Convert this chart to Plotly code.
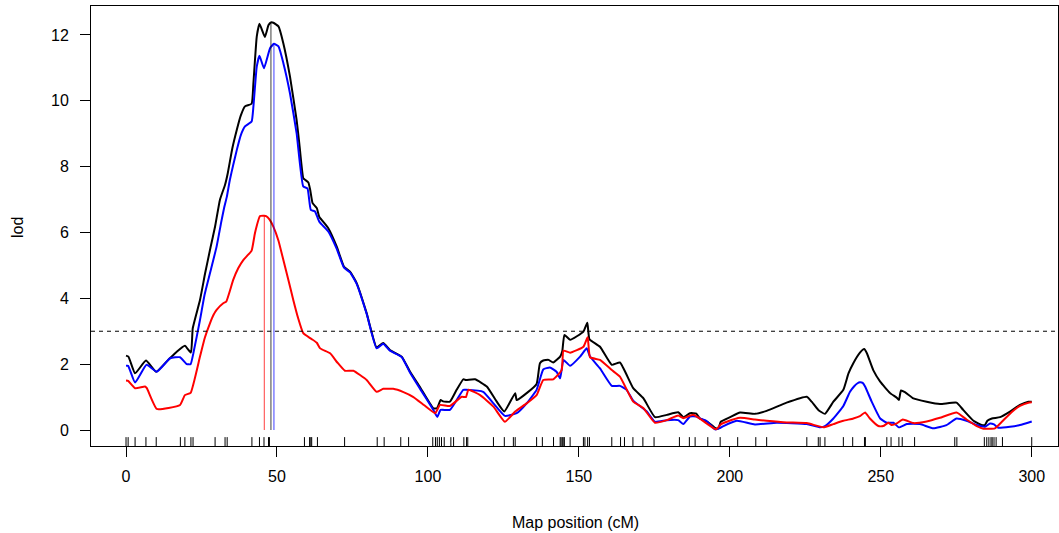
import numpy as np
import plotly.graph_objects as go

# LOD profiles along the genetic map (cM)
pos_black = [0, 0.8, 3.0, 6.6, 10.0, 14.0, 16.8, 19.5, 21.5, 22.1, 24.5, 26.2, 28.0, 29.5, 31.1, 32.8, 33.7,
             35.2, 36.7, 38.0, 39.4, 41.6, 42.2, 43.3, 44.2, 46.0, 47.2, 48.0, 48.8, 50.5, 52.1, 54.3, 56.5,
             57.4, 58.7, 59.3, 60.4, 61.0, 61.8, 63.2, 64.0, 67.0, 69.8, 72.2, 74.2, 76.4, 79.7, 83.0, 85.2,
             87.4, 91.3, 94.1, 97.4, 101.8, 103.0, 104.2, 105.0, 107.3, 109.5, 111.7, 112.6, 115.6, 119.5,
             122.8, 125.3, 128.9, 129.4, 132.7, 136.0, 137.1, 138.2, 139.9, 141.5, 143.8, 144.5, 145.2, 147.1,
             151.5, 152.8, 153.5, 157.0, 160.9, 163.6, 168.0, 171.4, 175.2, 179.1, 182.9, 184.6, 186.8, 188.9,
             190.1, 192.6, 195.1, 196.2, 197.0, 200.1, 203.4, 208.3, 212.2, 218.8, 225.5, 227.1, 229.3, 231.5,
             234.3, 237.6, 239.3, 240.9, 243.1, 244.5, 245.4, 247.5, 249.8, 253.1, 255.3, 256.0, 256.7, 258.0,
             260.8, 265.2, 269.6, 275.1, 277.3, 280.7, 283.4, 284.5, 285.3, 286.8, 289.5, 292.8, 296.1, 298.9, 300]
lod_black = [2.26, 2.23, 1.72, 2.11, 1.77, 2.13, 2.38, 2.56, 2.35, 3.09, 3.95, 4.76, 5.55, 6.18, 6.99, 7.45, 7.8,
             8.55, 9.12, 9.55, 9.83, 9.91, 10.54, 11.95, 12.34, 11.94, 12.3, 12.38, 12.37, 12.26, 11.75, 10.74, 9.42,
             8.7, 7.65, 7.6, 7.52, 7.3, 6.89, 6.74, 6.48, 6.13, 5.57, 4.96, 4.81, 4.46, 3.55, 2.51, 2.64,
             2.43, 2.23, 1.77, 1.3, 0.66, 0.66, 0.91, 0.87, 0.86, 1.22, 1.54, 1.52, 1.54, 1.32,
             0.86, 0.56, 1.12, 0.91, 1.12, 1.4, 2.03, 2.11, 2.13, 2.05, 2.23, 2.39, 2.89, 2.74,
             2.99, 3.26, 2.76, 2.53, 1.98, 2.05, 1.27, 0.96, 0.39, 0.46, 0.54, 0.39, 0.51, 0.5,
             0.35, 0.25, 0.06, 0.05, 0.25, 0.39, 0.53, 0.49, 0.58, 0.83, 1.01, 0.86, 0.61, 0.49,
             0.86, 1.22, 1.72, 2.03, 2.35, 2.46, 2.33, 1.82, 1.47, 1.12, 0.98, 0.91, 1.2, 1.15,
             0.96, 0.86, 0.79, 0.83, 0.61, 0.28, 0.15, 0.15, 0.28, 0.35, 0.39, 0.56, 0.76, 0.86, 0.86]

pos_blue = [0, 0.7, 3.0, 6.8, 10.2, 14.6, 17.9, 20.1, 21.4, 22.3, 24.5, 26.0, 27.8, 30.0, 31.5, 32.5, 33.4, 34.4,
            35.5, 36.7, 38.0, 39.4, 41.6, 42.2, 43.3, 44.2, 45.7, 47.7, 49.0, 50.5, 52.1, 54.3, 56.5, 58.7,
            60.1, 61.2, 62.6, 64.0, 67.0, 69.8, 72.2, 74.2, 76.4, 79.7, 83.0, 85.2, 87.4, 91.3, 94.1, 97.4,
            101.8, 103.1, 104.2, 107.3, 111.7, 112.6, 118.3, 121.7, 125.5, 129.4, 132.7, 136.0, 138.2, 140.4,
            142.6, 143.8, 144.9, 147.1, 150.4, 152.6, 153.7, 157.0, 160.9, 163.6, 165.8, 168.0, 172.5, 175.2,
            179.1, 182.9, 184.6, 186.8, 188.9, 190.1, 192.2, 195.1, 196.5, 197.9, 202.3, 208.3, 215.5, 225.5,
            229.9, 231.5, 234.3, 237.6, 239.8, 241.2, 242.3, 243.1, 244.0, 244.8, 247.0, 249.8, 252.0, 254.2,
            256.0, 258.6, 263.0, 267.4, 271.8, 275.1, 278.4, 281.8, 284.5, 286.2, 287.5, 288.9, 292.8, 296.1, 300]
lod_blue = [1.95, 1.95, 1.44, 1.98, 1.77, 2.18, 2.21, 2.0, 2.0, 2.33, 3.34, 4.1, 4.76, 5.57, 6.3, 6.75, 7.09, 7.6,
            8.05, 8.51, 8.95, 9.22, 9.37, 9.83, 11.04, 11.37, 10.99, 11.6, 11.73, 11.65, 11.15, 10.23, 9.02, 7.4,
            7.34, 6.69, 6.64, 6.33, 6.03, 5.5, 4.93, 4.79, 4.44, 3.53, 2.48, 2.62, 2.41, 2.22, 1.74, 1.25,
            0.61, 0.4, 0.61, 0.61, 1.22, 1.22, 1.16, 0.81, 0.43, 0.51, 0.81, 1.22, 1.84, 1.9,
            1.77, 1.57, 2.13, 1.95, 2.23, 2.48, 2.23, 1.87, 1.34, 1.34, 1.22, 0.89, 0.56, 0.25,
            0.3, 0.3, 0.18, 0.41, 0.41, 0.35, 0.28, 0.02, 0.05, 0.12, 0.28, 0.17, 0.22, 0.18,
            0.08, 0.12, 0.35, 0.73, 1.16, 1.33, 1.42, 1.45, 1.43, 1.32, 0.86, 0.35, 0.22, 0.22,
            0.08, 0.18, 0.18, 0.05, 0.15, 0.35, 0.28, 0.15, 0.1, 0.2, 0.17, 0.07, 0.1, 0.15, 0.26]

pos_red = [0, 0.7, 3.0, 6.3, 6.9, 10.2, 17.9, 19.5, 21.4, 24.5, 26.1, 27.8, 29.0, 30.0, 32.2, 33.2, 35.5, 37.2,
           38.9, 41.6, 42.7, 44.4, 45.8, 46.4, 47.5, 48.8, 50.5, 52.1, 53.8, 55.4, 57.0, 58.7, 61.0, 61.7,
           63.2, 64.3, 67.6, 70.0, 72.5, 75.3, 79.7, 83.0, 85.2, 88.5, 91.9, 95.2, 98.8, 102.4, 104.0, 107.3,
           111.2, 112.6, 113.4, 117.3, 121.7, 125.5, 128.9, 132.7, 136.0, 138.2, 141.5, 144.3, 144.9, 147.1,
           151.5, 152.9, 153.7, 157.0, 160.9, 163.6, 168.0, 171.4, 175.2, 179.1, 182.9, 184.6, 187.9, 192.3,
           195.4, 197.0, 199.0, 203.4, 208.3, 212.2, 218.8, 225.5, 231.0, 234.3, 237.6, 240.9, 243.1, 244.8,
           246.4, 249.2, 250.8, 252.5, 253.6, 255.3, 257.3, 260.8, 265.2, 269.6, 275.1, 278.4, 281.8, 284.0,
           287.8, 290.1, 293.4, 296.1, 298.9, 300]
lod_red = [1.5, 1.49, 1.27, 1.32, 1.27, 0.64, 0.76, 1.06, 1.13, 2.23, 2.8, 3.24, 3.5, 3.65, 3.85, 3.9, 4.56, 4.92,
           5.17, 5.45, 5.98, 6.5, 6.51, 6.5, 6.4, 6.18, 5.75, 5.17, 4.55, 3.95, 3.4, 2.94, 2.79, 2.75,
           2.65, 2.48, 2.33, 2.05, 1.8, 1.8, 1.52, 1.16, 1.25, 1.25, 1.15, 1.0, 0.75, 0.51, 0.76, 0.73,
           1.01, 1.0, 1.22, 1.06, 0.71, 0.25, 0.56, 0.81, 1.06, 1.52, 1.54, 1.82, 2.41, 2.35,
           2.53, 2.82, 2.21, 2.13, 1.82, 1.62, 0.86, 0.66, 0.22, 0.3, 0.44, 0.36, 0.46, 0.2,
           0.02, 0.17, 0.25, 0.37, 0.32, 0.28, 0.23, 0.21, 0.08, 0.18, 0.28, 0.35, 0.42, 0.53,
           0.35, 0.12, 0.12, 0.22, 0.15, 0.2, 0.32, 0.21, 0.26, 0.37, 0.53, 0.32, 0.12, 0.04,
           0.05, 0.25, 0.55, 0.73, 0.83, 0.84]

# marker positions (cM) shown as a rug along the bottom
markers = [0, 0.7, 3.0, 6.6, 10.0, 18.0, 19.5, 21.5, 22.2, 29.5, 32.8, 33.5, 41.7, 44.2, 45.7, 47.2, 47.5,
           59.1, 60.8, 61.2, 61.5, 63.4, 72.4, 83.2, 85.5, 91.0, 93.6, 101.6, 102.5, 103.1, 103.8, 104.5,
           105.4, 107.6, 108.5, 111.9, 112.8, 113.2, 121.7, 125.3, 128.3, 128.9, 136.0, 137.9, 141.6, 143.8,
           144.1, 144.5, 144.8, 145.2, 147.1, 151.5, 152.0, 152.9, 153.5, 160.9, 163.8, 165.1, 167.9, 171.2,
           174.9, 183.3, 186.6, 188.5, 192.7, 196.8, 202.6, 208.6, 212.2, 225.5, 229.3, 229.9, 231.5, 237.6,
           240.7, 244.6, 244.9, 252.0, 253.4, 256.0, 257.1, 261.2, 274.5, 275.2, 284.3, 285.1, 285.8, 286.5,
           286.9, 287.5, 288.2, 290.3, 300.0]

threshold = 3.0
x_ticks = [0, 50, 100, 150, 200, 250, 300]
y_ticks = [0, 2, 4, 6, 8, 10, 12]

X_RANGE = [-11.6, 308.7]
Y_RANGE = [-0.486, 12.88]
RUG_LEN = 0.27

FONT = "Liberation Sans, Arial, Helvetica, sans-serif"

fig = go.Figure()

curves = [(pos_black, lod_black, "black"), (pos_blue, lod_blue, "blue"), (pos_red, lod_red, "red")]
for xs, ys, col in curves:
    fig.add_trace(go.Scatter(x=xs, y=ys, mode="lines",
                             line=dict(color=col, width=2, shape="spline", smoothing=0.4),
                             hoverinfo="skip", showlegend=False))

# vertical line at each profile's maximum
for xs, ys, col in curves:
    i = int(np.argmax(ys))
    fig.add_trace(go.Scatter(x=[xs[i], xs[i]], y=[0, ys[i]], mode="lines",
                             line=dict(color=col, width=1), opacity=0.75,
                             hoverinfo="skip", showlegend=False))

# rug of marker positions
rx, ry = [], []
for m in markers:
    rx += [m, m, None]
    ry += [Y_RANGE[0], Y_RANGE[0] + RUG_LEN, None]
fig.add_trace(go.Scatter(x=rx, y=ry, mode="lines", line=dict(color="black", width=1),
                         hoverinfo="skip", showlegend=False))

# significance threshold
fig.add_shape(type="line", xref="paper", x0=0, x1=1, yref="y", y0=threshold, y1=threshold,
              line=dict(color="black", width=1, dash="4px,4px"))

axis_common = dict(showgrid=False, zeroline=False, showline=True, mirror=True,
                   linecolor="black", linewidth=1, ticks="outside", ticklen=10,
                   tickwidth=1, tickcolor="black",
                   tickfont=dict(family=FONT, size=16, color="black"))

fig.update_layout(
    width=1059, height=533,
    margin=dict(l=91, r=1, t=6, b=87),
    plot_bgcolor="white", paper_bgcolor="white",
    xaxis=dict(range=X_RANGE, tickvals=x_ticks, ticktext=[str(v) for v in x_ticks],
               ticklabelstandoff=6, **axis_common),
    yaxis=dict(range=Y_RANGE, tickvals=y_ticks, ticktext=[str(v) for v in y_ticks],
               ticklabelstandoff=8, **axis_common),
    annotations=[
        dict(text="Map position (cM)", xref="paper", yref="paper", x=(575 - 91) / 967,
             y=(446 - 522) / 440, showarrow=False, xanchor="center", yanchor="middle",
             font=dict(family=FONT, size=16, color="black")),
        dict(text="lod", xref="paper", yref="paper", x=(17 - 91) / 967,
             y=(446 - 228) / 440, showarrow=False, xanchor="center", yanchor="middle",
             textangle=-90, font=dict(family=FONT, size=16, color="black")),
    ],
)

fig.write_html("out.html")
